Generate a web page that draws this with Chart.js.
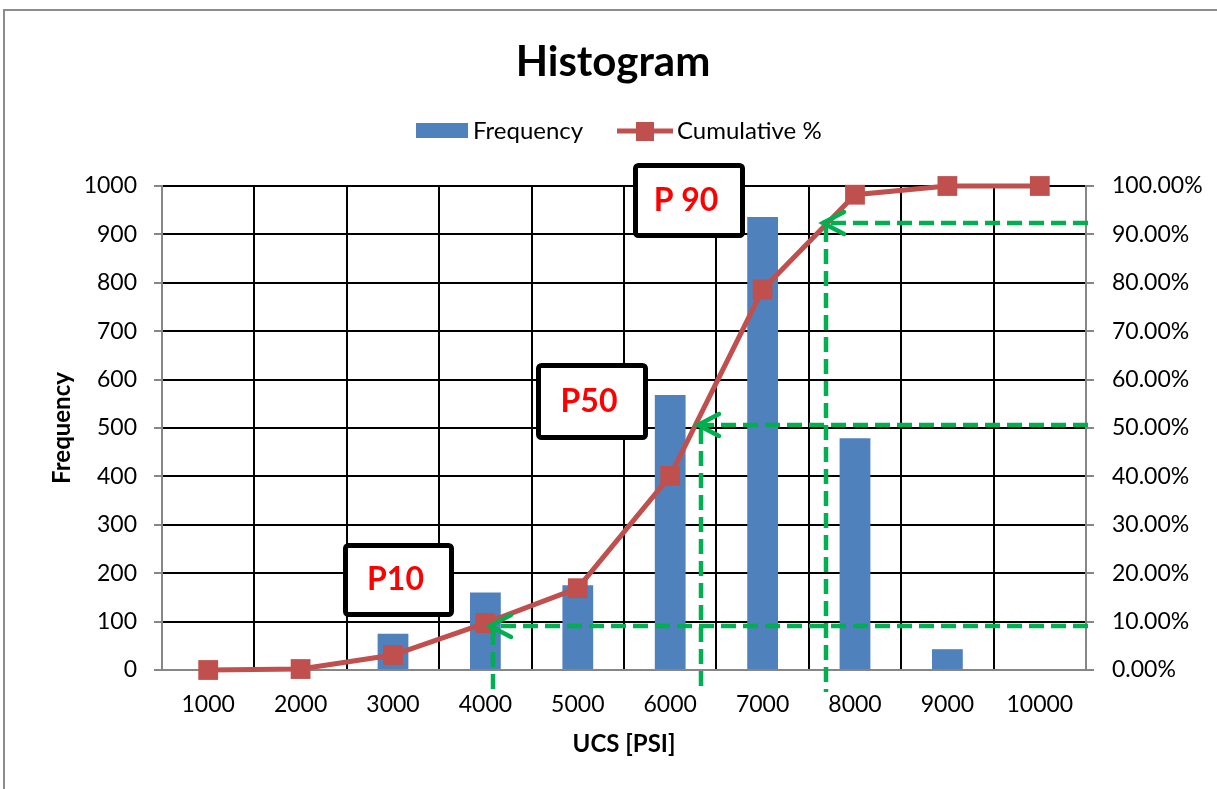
<!DOCTYPE html>
<html>
<head>
<meta charset="utf-8">
<script src="https://cdn.jsdelivr.net/npm/chart.js@4.4.1/dist/chart.umd.min.js"></script>
<style>
  html, body { margin: 0; padding: 0; background: #fff; }
  #wrap { position: relative; width: 1217px; height: 789px; }
  #frame { position: absolute; left: 3px; top: 9px; width: 1240px; height: 800px;
           border: 2px solid #8c8c8c; box-sizing: border-box; }
  canvas { position: absolute; left: 0; top: 0; }
</style>
</head>
<body>
<div id="wrap">
  <div id="frame"></div>
  <canvas id="c" width="1217" height="789"></canvas>
</div>
<script>
// UCS bins (psi) and histogram counts
const categories = ['1000', '2000', '3000', '4000', '5000', '6000', '7000', '8000', '9000', '10000'];
const frequency = [0, 0, 75, 160, 175, 568, 936, 479, 43, 0];
const cumulativePct = [0, 0.2, 3.1, 9.7, 16.9, 40.1, 78.6, 98.2, 100, 100];

// Percentile markers: level on the % axis and position along the UCS axis (bin index)
const pLabels = ['P10', 'P50', 'P 90'];
const pLevels = [9.1, 50.6, 92.4];
const pPositions = [3.06, 5.31, 6.66];

const FONT = 'Lato, "Open Sans", sans-serif';

const overlay = {
  id: 'overlay',
  afterDatasetsDraw(chart) {
    const { ctx } = chart;
    const x = chart.scales.x, y1 = chart.scales.y1;
    const bottom = chart.chartArea.bottom;
    const right = chart.chartArea.right;
    ctx.save();
    ctx.strokeStyle = '#00B050';
    ctx.lineWidth = 4.5;
    pLevels.forEach((lvl, i) => {
      const py = Math.round(y1.getPixelForValue(lvl));
      const px = Math.round(x.getPixelForValue(pPositions[i]));
      // dashed leader lines
      ctx.setLineDash([15, 7]);
      ctx.beginPath();
      ctx.moveTo(right + 2, py);
      ctx.lineTo(px - 2, py);
      ctx.stroke();
      ctx.beginPath();
      ctx.moveTo(px + 2, py + 4);
      ctx.lineTo(px + 2, bottom + 22);
      ctx.stroke();
      // arrow head
      ctx.setLineDash([]);
      ctx.lineCap = 'round';
      ctx.beginPath();
      ctx.moveTo(px + 20, py - 11);
      ctx.lineTo(px - 1, py);
      ctx.lineTo(px + 20, py + 11);
      ctx.stroke();
      ctx.lineCap = 'butt';
    });
    ctx.restore();
  },
  afterDraw(chart) {
    const { ctx } = chart;
    ctx.save();
    // title
    ctx.fillStyle = '#000';
    ctx.font = 'bold 42px ' + FONT;
    ctx.textAlign = 'center';
    ctx.textBaseline = 'alphabetic';
    ctx.fillText('Histogram', 613, 76);

    // legend
    ctx.font = '24px ' + FONT;
    ctx.textAlign = 'left';
    ctx.textBaseline = 'middle';
    ctx.fillStyle = '#4F81BD';
    ctx.fillRect(416, 123, 52, 15);
    ctx.fillStyle = '#000';
    ctx.fillText('Frequency', 473, 131);
    ctx.strokeStyle = '#C0504D';
    ctx.lineWidth = 5;
    ctx.beginPath();
    ctx.moveTo(617, 131);
    ctx.lineTo(673, 131);
    ctx.stroke();
    ctx.fillStyle = '#C0504D';
    ctx.fillRect(636, 122, 18, 19);
    ctx.fillStyle = '#000';
    ctx.fillText('Cumulative %', 677, 131);

    // percentile boxes
    const boxes = [[343, 543, 111, 74], [536, 363, 112, 77], [633, 163, 112, 75]];
    boxes.forEach((b, i) => {
      ctx.fillStyle = '#fff';
      ctx.strokeStyle = '#000';
      ctx.lineWidth = 5;
      ctx.lineJoin = 'round';
      ctx.beginPath();
      ctx.roundRect(b[0] + 2.5, b[1] + 2.5, b[2] - 5, b[3] - 5, 3);
      ctx.fill();
      ctx.stroke();
      ctx.fillStyle = '#FF0000';
      ctx.font = 'bold 32px ' + FONT;
      ctx.textAlign = 'center';
      ctx.textBaseline = 'middle';
      ctx.fillText(pLabels[i], b[0] + b[2] / 2 - 3, b[1] + b[3] / 2);
    });
    ctx.restore();
  }
};

new Chart(document.getElementById('c'), {
  type: 'bar',
  data: {
    labels: categories,
    datasets: [
      {
        type: 'line',
        label: 'Cumulative %',
        data: cumulativePct,
        yAxisID: 'y1',
        borderColor: '#C0504D',
        backgroundColor: '#C0504D',
        borderWidth: 5,
        tension: 0,
        clip: false,
        pointStyle: 'rect',
        pointRadius: 14,
        pointBorderWidth: 0,
        pointBackgroundColor: '#C0504D',
        order: 0
      },
      {
        type: 'bar',
        label: 'Frequency',
        data: frequency,
        yAxisID: 'y',
        backgroundColor: '#4F81BD',
        categoryPercentage: 1,
        barPercentage: 0.333,
        order: 1
      }
    ]
  },
  options: {
    responsive: false,
    animation: false,
    layout: { padding: { top: 186, left: 0, right: 0, bottom: 0 } },
    plugins: {
      legend: { display: false },
      title: { display: false },
      tooltip: { enabled: false }
    },
    scales: {
      x: {
        afterFit(s) { s.height = 119; },
        grid: { color: '#000', lineWidth: 2, drawTicks: false, offset: true },
        border: { color: '#868686', width: 2 },
        ticks: { color: '#000', font: { family: FONT, size: 23 }, padding: 21, maxRotation: 0 },
        title: { display: true, text: 'UCS [PSI]', color: '#000',
                 font: { family: FONT, size: 24, weight: 'bold' }, padding: { top: 0, bottom: 30 } }
      },
      y: {
        position: 'left',
        min: 0, max: 1000,
        afterFit(s) { s.width = 162; },
        grid: { color: '#000', lineWidth: 2, tickColor: '#868686', tickLength: 8 },
        border: { color: '#868686', width: 2 },
        ticks: { stepSize: 100, color: '#000', font: { family: FONT, size: 23 }, padding: 17,
                 callback: v => String(v) },
        title: { display: true, text: 'Frequency', color: '#000',
                 font: { family: FONT, size: 24, weight: 'bold' }, padding: { top: 48, bottom: 0 } }
      },
      y1: {
        position: 'right',
        min: 0, max: 100,
        afterFit(s) { s.width = 131; },
        grid: { drawOnChartArea: false, tickColor: '#868686', tickLength: 8, lineWidth: 2 },
        border: { color: '#868686', width: 2 },
        ticks: { stepSize: 10, color: '#000', font: { family: FONT, size: 23 }, padding: 18,
                 callback: v => v.toFixed(2) + '%' }
      }
    }
  },
  plugins: [overlay]
});
</script>
</body>
</html>
